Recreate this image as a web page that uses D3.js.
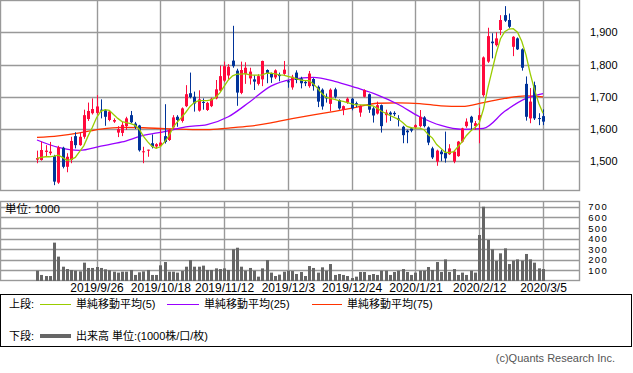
<!DOCTYPE html>
<html>
<head>
<meta charset="utf-8">
<script src="https://cdn.jsdelivr.net/npm/d3@7"></script>
<style>
body { margin: 0; background: #fff; }
text { font-family: "Liberation Sans", "Noto Sans CJK JP", sans-serif; }
</style>
</head>
<body>
<div id="chart"></div>
<script>
// daily candles, 2019/9/4 .. 2020/3/5 (120 sessions)
var opens = [1505,1504,1529,1525,1516,1434,1542,1483,1504,1578, 1550,1576,1631,1649,1650,1660,1658,1628,1623,1589,
             1588,1609,1643,1617,1611,1529,1533,1556,1546,1547, 1578,1566,1605,1638,1625,1671,1711,1700,1657,1684,
             1659,1671,1695,1719,1750,1766,1812,1781,1712,1770, 1757,1754,1740,1754,1783,1771,1760,1768,1771,1748,
             1729,1775,1757,1746,1733,1755,1731,1722,1700,1678, 1723,1690,1659,1682,1694,1680,1651,1700,1708,1664,
             1648,1674,1643,1651,1650,1633,1607,1595,1602,1605, 1609,1636,1605,1540,1499,1530,1527,1522,1499,1516,
             1561,1609,1638,1609,1628,1705,1809,1871,1860,1907, 1953,1938,1855,1881,1847,1740,1633,1736,1634,1640]
var highs = [1533,1561,1550,1560,1520,1548,1545,1525,1576,1590, 1590,1660,1682,1695,1705,1692,1662,1656,1633,1609,
             1622,1638,1656,1622,1613,1545,1536,1583,1556,1602, 1677,1600,1643,1643,1667,1736,1775,1716,1720,1695,
             1684,1697,1752,1797,1809,1801,1920,1787,1809,1807, 1790,1767,1770,1812,1785,1775,1785,1775,1811,1752,
             1768,1782,1762,1752,1780,1758,1735,1726,1710,1726, 1728,1692,1673,1698,1697,1685,1675,1723,1710,1668,
             1685,1676,1660,1655,1655,1643,1610,1598,1605,1615, 1659,1640,1608,1545,1536,1536,1592,1553,1533,1563,
             1604,1633,1641,1625,1666,1825,1914,1897,1900,1953, 1981,1958,1888,1884,1850,1763,1727,1747,1649,1661]
var lows = [1494,1502,1514,1519,1426,1430,1478,1466,1494,1540, 1548,1570,1625,1645,1645,1633,1610,1624,1619,1575,
            1578,1597,1618,1600,1530,1494,1514,1540,1540,1545, 1555,1563,1600,1607,1620,1668,1695,1654,1654,1660,
            1656,1668,1692,1716,1746,1755,1790,1672,1708,1740, 1738,1721,1735,1733,1742,1743,1755,1748,1768,1728,
            1722,1742,1726,1733,1728,1719,1668,1660,1682,1655, 1695,1660,1643,1678,1658,1668,1638,1698,1650,1620,
            1645,1589,1620,1625,1640,1608,1556,1556,1590,1600, 1605,1605,1550,1507,1486,1500,1496,1520,1494,1514,
            1558,1604,1597,1598,1556,1700,1805,1819,1856,1891, 1932,1912,1826,1845,1781,1626,1618,1628,1612,1612]
var closes = [1510,1535,1533,1530,1437,1543,1483,1514,1563,1550, 1576,1643,1656,1662,1670,1657,1638,1654,1628,1600,
              1613,1633,1621,1607,1534,1531,1536,1545,1553,1558, 1560,1598,1636,1628,1664,1708,1699,1679,1692,1682,
              1681,1694,1723,1764,1795,1793,1795,1713,1783,1790, 1778,1747,1764,1811,1771,1760,1782,1764,1784,1746,
              1762,1752,1742,1742,1772,1733,1685,1670,1695,1722, 1700,1664,1671,1694,1664,1675,1672,1721,1660,1642,
              1674,1609,1651,1645,1646,1628,1581,1590,1595,1612, 1638,1609,1558,1512,1533,1522,1509,1540,1530,1561,
              1602,1623,1620,1618,1643,1822,1888,1866,1881,1938, 1936,1917,1886,1847,1790,1638,1685,1633,1633,1623]

// volume, 1000 shares
var volumes = [97,57,47,47,362,230,135,113,104,97, 91,173,123,123,132,123,110,101,88,79,
               88,88,104,57,82,91,104,57,57,148, 179,88,88,79,94,135,198,135,135,145,
               104,104,119,113,119,104,299,314,135,97, 123,97,41,119,198,79,47,60,88,97,
               94,66,85,47,141,123,79,129,97,160, 57,66,57,47,28,41,85,85,57,66,
               57,97,97,57,85,97,113,85,57,79, 97,97,132,104,179,85,204,85,113,57,
               79,57,97,79,434,701,387,299,189,261, 308,160,192,204,192,255,204,173,119,113]

// 5-day average, read per session
var ma5 = [1509,1512,1514,1514,1516,1519,1512,1503,1505,1512, 1530,1548,1578,1605,1635,1655,1660,1658,1645,1633,
           1623,1620,1617,1612,1600,1578,1561,1547,1540,1545, 1560,1578,1605,1622,1636,1652,1670,1682,1688,1688,
           1688,1690,1698,1712,1732,1752,1765,1770,1770,1772, 1768,1767,1767,1768,1773,1773,1771,1768,1767,1763,
           1760,1756,1752,1750,1750,1740,1726,1710,1698,1695, 1692,1688,1686,1682,1678,1675,1675,1675,1673,1672,
           1665,1655,1649,1642,1636,1630,1620,1608,1604,1603, 1603,1598,1583,1572,1552,1540,1528,1527,1530,1545,
           1561,1580,1594,1605,1618,1662,1725,1780,1835,1880, 1902,1910,1911,1900,1872,1830,1772,1722,1680,1649]

// 25 and 75 day averages, read every 5 sessions
var maIdx = [0,5,10,15,20,25,30,35,40,45,50,55,60,65,70,75,80,85,90,95,100,105,110,115,119]
var ma25 = [1566,1543,1534,1547,1560,1580,1592,1607,1614,1638,1684,1733,1754,1760,1748,1728,1706,1676,1638,1611,1599,1602,1655,1695,1710]
var ma75 = [1574,1579,1588,1600,1605,1604,1601,1599,1598,1603,1609,1619,1632,1644,1655,1667,1680,1681,1679,1672,1670,1682,1695,1703,1700]

var tickPos = [14,29,44,59,74,89,104,119]
var tickLabels = ["2019/9/26","2019/10/18","2019/11/12","2019/12/3","2019/12/24","2020/1/21","2020/2/12","2020/3/5"]
var priceTicks = [1500,1600,1700,1800,1900]
var volTicks = [100,200,300,400,500,600,700]

var svgWidth = 633
var svgHeight = 373

var svg = d3.select("#chart").append("svg").attr("width", svgWidth).attr("height", svgHeight)

var panelLeft = 0.5, panelRight = 579.5
var priceTop = 0.5, priceBottom = 190.5
var volTop = 201.5, volBottom = 280.5

var gridColor = "#999"
var upColor = "#ff0a3c"
var downColor = "#003399"

var xScale = d3.scaleLinear().domain([0, closes.length - 1]).range([37, 543])
var yScale = d3.scaleLinear().domain([1411, 2000]).range([190, 0])
var vScale = d3.scaleLinear().domain([0, 750]).range([281, 201.5])

var px = i => Math.round(xScale(i)) + 0.5
var py = v => Math.round(v) + 0.5

// grids
var grid = svg.append("g").attr("stroke", gridColor).attr("stroke-width", 1.4)

grid.selectAll(".vgrid").data(tickPos).enter().append("line")
    .attr("x1", d => px(d)).attr("x2", d => px(d))
    .attr("y1", priceTop).attr("y2", priceBottom)
grid.selectAll(".vgrid2").data(tickPos).enter().append("line")
    .attr("x1", d => px(d)).attr("x2", d => px(d))
    .attr("y1", volTop).attr("y2", volBottom)
grid.selectAll(".pgrid").data(priceTicks).enter().append("line")
    .attr("x1", panelLeft).attr("x2", panelRight)
    .attr("y1", d => py(yScale(d))).attr("y2", d => py(yScale(d)))
grid.selectAll(".vlgrid").data(volTicks).enter().append("line")
    .attr("x1", panelLeft).attr("x2", panelRight)
    .attr("y1", d => py(vScale(d))).attr("y2", d => py(vScale(d)))

svg.append("rect").attr("x", panelLeft).attr("y", priceTop)
    .attr("width", panelRight - panelLeft).attr("height", priceBottom - priceTop)
    .attr("fill", "none").attr("stroke", gridColor).attr("stroke-width", 1.4)
svg.append("rect").attr("x", panelLeft).attr("y", volTop)
    .attr("width", panelRight - panelLeft).attr("height", volBottom - volTop)
    .attr("fill", "none").attr("stroke", gridColor).attr("stroke-width", 1.4)

// moving averages
var lineIdx = d3.line().x(d => xScale(d[0])).y(d => yScale(d[1])).curve(d3.curveMonotoneX)

svg.append("path").datum(maIdx.map((d, k) => [d, ma75[k]]))
    .attr("d", lineIdx).attr("fill", "none").attr("stroke", "#ff3300").attr("stroke-width", 1.3)
svg.append("path").datum(maIdx.map((d, k) => [d, ma25[k]]))
    .attr("d", lineIdx).attr("fill", "none").attr("stroke", "#9900ff").attr("stroke-width", 1.3)

// candles
var candles = svg.append("g")
var idx = d3.range(closes.length)

candles.selectAll(".wick").data(idx).enter().append("line")
    .attr("x1", d => px(d)).attr("x2", d => px(d))
    .attr("y1", d => yScale(highs[d])).attr("y2", d => yScale(lows[d]))
    .attr("stroke", d => closes[d] >= opens[d] ? upColor : downColor)
    .attr("stroke-width", 1)

candles.selectAll(".body").data(idx).enter().append("rect")
    .attr("x", d => px(d) - 1.5)
    .attr("width", 3)
    .attr("y", d => yScale(Math.max(opens[d], closes[d])))
    .attr("height", d => Math.max(1, Math.abs(yScale(opens[d]) - yScale(closes[d]))))
    .attr("fill", d => closes[d] >= opens[d] ? upColor : downColor)

svg.append("path").datum(ma5.map((d, k) => [k, d]))
    .attr("d", d3.line().x(d => xScale(d[0])).y(d => yScale(d[1])))
    .attr("fill", "none").attr("stroke", "#99cc00").attr("stroke-width", 1.3)

// volume bars
svg.append("g").selectAll("rect").data(idx).enter().append("rect")
    .attr("x", d => px(d) - 1.5)
    .attr("width", 3)
    .attr("y", d => vScale(volumes[d]))
    .attr("height", d => vScale(0) - vScale(volumes[d]))
    .attr("fill", "#666")

svg.append("text").attr("x", 5).attr("y", 209).attr("dy", "0.35em")
    .attr("font-size", "11.5px").text("単位: 1000")

// axes
var dateAxis = d3.axisBottom(xScale).tickValues(tickPos)
    .tickFormat((d, i) => tickLabels[i]).tickSize(0).tickPadding(2.5)
var gx = svg.append("g").attr("transform", "translate(0, 281)").call(dateAxis)
gx.select(".domain").remove()
gx.selectAll("text").attr("font-size", "12px").attr("font-family", null)

var priceAxis = d3.axisRight(yScale).tickValues(priceTicks).tickFormat(d3.format(",")).tickSize(0).tickPadding(3)
var gp = svg.append("g").attr("transform", "translate(587, 0)").call(priceAxis)
gp.select(".domain").remove()
gp.selectAll("text").attr("font-size", "11px").attr("font-family", null)

var volAxis = d3.axisRight(vScale).tickValues(volTicks).tickSize(0)
var gv = svg.append("g").attr("transform", "translate(608, 0)").call(volAxis)
gv.select(".domain").remove()
gv.selectAll("text").attr("x", 0).attr("text-anchor", "end")
    .attr("font-size", "9.5px").attr("letter-spacing", "1.3px").attr("font-family", null)

// legend
svg.append("rect").attr("x", 0.5).attr("y", 294.5).attr("width", 631).attr("height", 52)
    .attr("fill", "none").attr("stroke", "#000")

var legendTop = [
    {x1: 40, x2: 71, tx: 76, color: "#99cc00", label: "単純移動平均(5)"},
    {x1: 167, x2: 199, tx: 204, color: "#9900ff", label: "単純移動平均(25)"},
    {x1: 312, x2: 342, tx: 347, color: "#ff3300", label: "単純移動平均(75)"}
]
var legend = svg.append("g").attr("font-size", "11px")
legend.append("text").attr("x", 9).attr("y", 304).attr("dy", "0.35em").text("上段:")
legend.selectAll(".ll").data(legendTop).enter().append("line")
    .attr("x1", d => d.x1).attr("x2", d => d.x2).attr("y1", 304.5).attr("y2", 304.5)
    .attr("stroke", d => d.color).attr("stroke-width", 1)
legend.selectAll(".lt").data(legendTop).enter().append("text")
    .attr("x", d => d.tx).attr("y", 304).attr("dy", "0.35em").text(d => d.label)

legend.append("text").attr("x", 9).attr("y", 336).attr("dy", "0.35em").text("下段:")
legend.append("line").attr("x1", 40).attr("x2", 71).attr("y1", 336).attr("y2", 336)
    .attr("stroke", "#666").attr("stroke-width", 4)
legend.append("text").attr("x", 76).attr("y", 336).attr("dy", "0.35em").text("出来高 単位:(1000株/口/枚)")

svg.append("text").attr("x", 615).attr("y", 358).attr("dy", "0.35em")
    .attr("text-anchor", "end").attr("font-size", "11px").attr("fill", "#555")
    .text("(c)Quants Research Inc.")
</script>
</body>
</html>
